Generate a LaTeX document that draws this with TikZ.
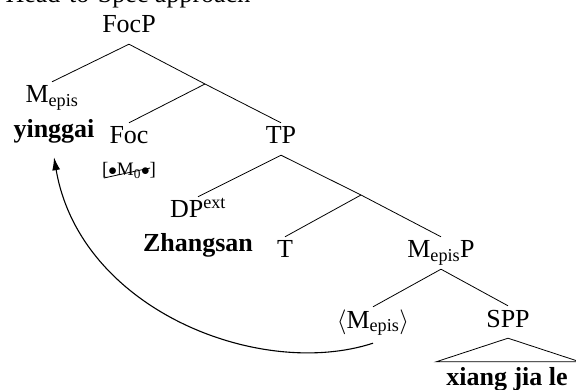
\documentclass[tikz,border=0pt]{standalone}
\usepackage{fontspec}
\setmainfont{Liberation Serif}
\usetikzlibrary{calc,arrows.meta}
\tikzset{
    cat/.style={
        anchor=base,
        inner sep=3pt,
        text height=18pt,
        text depth=8pt,
        font=\fontsize{26}{31}\selectfont
    },
    word/.style={
        cat,
        font=\fontsize{26}{31}\selectfont\bfseries
    },
    feat/.style={
        anchor=base,
        inner sep=1pt,
        font=\fontsize{19}{22}\selectfont
    },
    branch/.style={
        line width=0.8pt
    },
    move/.style={
        line width=1.1pt,
        -{Latex[length=13pt,width=8pt]}
    }
}

\begin{document}
\begin{tikzpicture}[x=1pt,y=-1pt]
    \useasboundingbox (0,0) rectangle (576,390);

    \node (title) [anchor=base west,font=\fontsize{26}{31}\selectfont] at (2,3) {Head-to-Spec approach};

    %% FocP and its daughters
    \node (FocP) [cat] at (129,33) {FocP};
    \node (Mepis) [cat] at (52,103) {M\textsubscript{epis}};
    \node (yinggai) [word] at (54,138) {yinggai};
    \coordinate (Focbar) at (205,84);
    \node (Foc) [cat] at (129,144) {Foc};
    \node (feat) [feat] at (129,176) {[$\bullet$M\textsubscript{0}$\bullet$]};
    \node (TP) [cat] at (281,144) {TP};

    %% TP
    \coordinate (Tbar) at (361,195);
    \node (DPext) [cat] at (198,218) {DP\textsuperscript{ext}};
    \node (Zhangsan) [word] at (198,252) {Zhangsan};
    \node (T) [cat] at (285,258) {T};
    \node (MepisP) [cat] at (441,258) {M\textsubscript{epis}P};

    %% MepisP
    \node (trace) [cat] at (373,328) {$\langle$M\textsubscript{epis}$\rangle$};
    \node (SPP) [cat] at (508,327) {SPP};
    \node (xjl) [word] at (507,385) {xiang jia le};

    \draw[branch] (FocP.south) -- (Mepis.north);
    \draw[branch] (FocP.south) -- (Focbar) -- (TP.north);
    \draw[branch] (Focbar) -- (Foc.north);
    \draw[branch] (TP.south) -- (DPext.north);
    \draw[branch] (TP.south) -- (Tbar) -- (MepisP.north);
    \draw[branch] (Tbar) -- (T.north);
    \draw[branch] (MepisP.south) -- (trace.north);
    \draw[branch] (MepisP.south) -- (SPP.north);
    \draw[branch] (SPP.south) -- ($(xjl.north west)+(-7,-2)$) -- ($(xjl.north east)+(9,-2)$) -- cycle;

    % checked feature
    \draw[branch] ($(feat.base west)+(3,2)$) -- ($(feat.base east)+(-7,-8)$);

    % head movement
    \draw[move] ($(trace.south)+(0,4)$) .. controls (260,380) and (80,310) .. ($(yinggai.south)+(0,8)$);

\end{tikzpicture}
\end{document}
